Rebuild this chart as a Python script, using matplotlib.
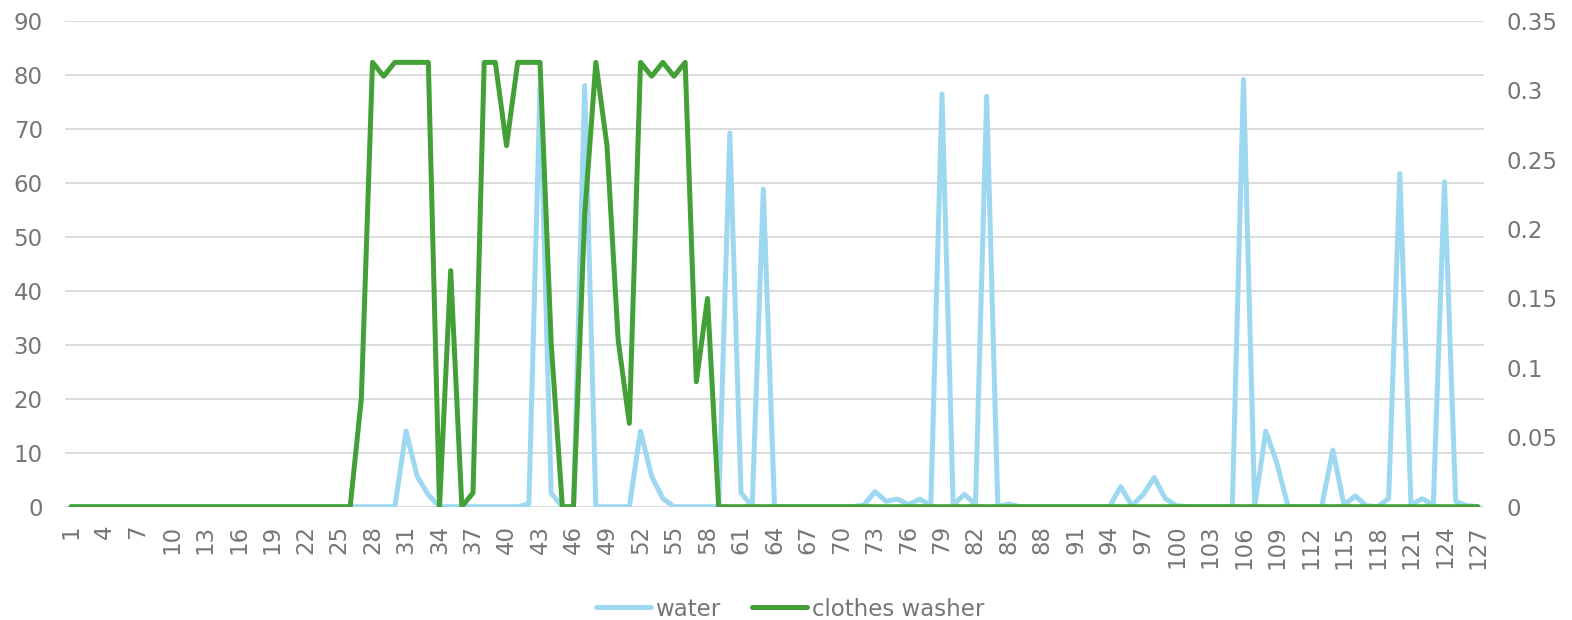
import numpy as np
import matplotlib.pyplot as plt
from matplotlib.ticker import FuncFormatter

# readings 1..127
samples = list(range(1, 128))

water = [
    0, 0, 0, 0, 0, 0, 0, 0, 0, 0,
    0, 0, 0, 0, 0, 0, 0, 0, 0, 0,
    0, 0, 0, 0, 0, 0, 0, 0, 0, 0,
    14, 5.6, 2.2, 0, 0, 0, 0, 0, 0, 0,
    0, 0.5, 77.5, 2.5, 0, 0, 78, 0, 0, 0,
    0, 14, 5.6, 1.5, 0, 0, 0, 0, 0, 69.2,
    2.6, 0, 58.8, 0, 0, 0, 0, 0, 0, 0,
    0, 0.3, 2.8, 1.0, 1.4, 0.4, 1.4, 0.3, 76.4, 0.3,
    2.3, 0.4, 76.0, 0, 0.5, 0, 0, 0, 0, 0,
    0, 0, 0, 0, 3.7, 0.2, 2.2, 5.4, 1.5, 0.2,
    0, 0, 0, 0, 0, 79.1, 0, 14, 8.0, 0,
    0, 0, 0, 10.5, 0.3, 2.0, 0.2, 0, 1.5, 61.7,
    0.3, 1.5, 0.3, 60.2, 1.0, 0.2, 0,
]

clothes_washer = [
    0, 0, 0, 0, 0, 0, 0, 0, 0, 0,
    0, 0, 0, 0, 0, 0, 0, 0, 0, 0,
    0, 0, 0, 0, 0, 0, 0.078, 0.32, 0.31, 0.32,
    0.32, 0.32, 0.32, 0, 0.17, 0, 0.01, 0.32, 0.32, 0.26,
    0.32, 0.32, 0.32, 0.118, 0, 0, 0.21, 0.32, 0.26, 0.12,
    0.06, 0.32, 0.31, 0.32, 0.31, 0.32, 0.09, 0.15, 0, 0,
    0, 0, 0, 0, 0, 0, 0, 0, 0, 0,
    0, 0, 0, 0, 0, 0, 0, 0, 0, 0,
    0, 0, 0, 0, 0, 0, 0, 0, 0, 0,
    0, 0, 0, 0, 0, 0, 0, 0, 0, 0,
    0, 0, 0, 0, 0, 0, 0, 0, 0, 0,
    0, 0, 0, 0, 0, 0, 0, 0, 0, 0,
    0, 0, 0, 0, 0, 0, 0,
]

left_ticks = list(range(0, 91, 10))
right_ticks = [0, 0.05, 0.1, 0.15, 0.2, 0.25, 0.3, 0.35]

text_col = "#767676"
grid_col = "#D9D9D9"
blue = "#9DD8F0"
green = "#43A037"
fs = 16.5

plt.rcParams['font.family'] = ['DejaVu Sans']

fig = plt.figure(figsize=(15.72, 6.2), dpi=100)
ax = fig.add_axes([65/1572, 1 - 506.7/620, (1484-65)/1572, (506.7-20.7)/620])
ax2 = ax.twinx()

l1, = ax.plot(samples, water, color=blue, lw=3.6, solid_joinstyle='round',
              solid_capstyle='round', label='water')
l2, = ax2.plot(samples, clothes_washer, color=green, lw=3.6, solid_joinstyle='round',
               solid_capstyle='round', label='clothes washer')

ax.set_xlim(0.46, 127.54)
ax.set_ylim(0, 90)
ax2.set_ylim(0, 0.35)
ax.set_yticks(left_ticks)
ax2.set_yticks(right_ticks)
ax2.yaxis.set_major_formatter(FuncFormatter(lambda v, p: "%g" % round(v, 2)))

ax.set_xticks(samples[::3])
ax.set_xticklabels([str(s) for s in samples[::3]], rotation=90)

ax.grid(axis='y', color=grid_col, lw=1.3)
ax.set_axisbelow(True)
for a in (ax, ax2):
    for s in a.spines.values():
        s.set_visible(False)
ax.tick_params(axis='y', length=0, pad=16, labelsize=fs, labelcolor=text_col)
ax2.tick_params(axis='y', length=0, pad=16, labelsize=fs, labelcolor=text_col)
ax.tick_params(axis='x', length=0, pad=13, labelsize=fs, labelcolor=text_col)

fig.legend(handles=[l1, l2], loc='center', bbox_to_anchor=(790/1572, 1 - 609/620),
           ncol=2, frameon=False, fontsize=fs, labelcolor=text_col,
           handlelength=2.4, handletextpad=0.2, columnspacing=1.4)

fig.savefig("out.png", dpi=100)
